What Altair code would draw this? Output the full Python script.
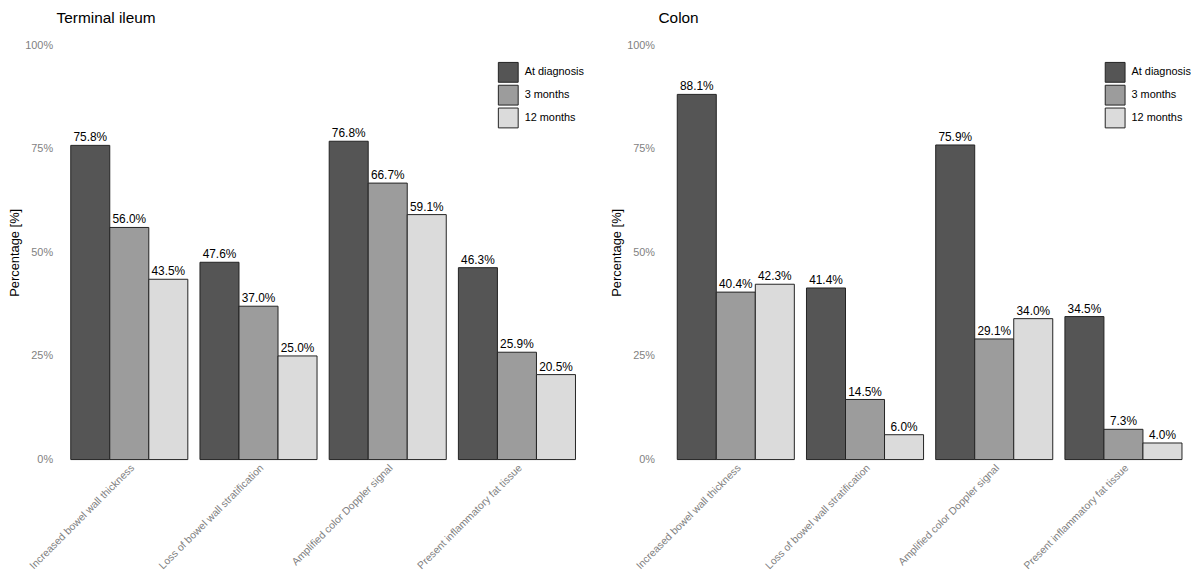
import altair as alt
import pandas as pd

features = [
    "Increased bowel wall thickness",
    "Loss of bowel wall stratification",
    "Amplified color Doppler signal",
    "Present inflammatory fat tissue",
]
times = ["At diagnosis", "3 months", "12 months"]
colors = ["#555555", "#9c9c9c", "#dbdbdb"]

ileum_diag = [75.8, 47.6, 76.8, 46.3]
ileum_3m = [56.0, 37.0, 66.7, 25.9]
ileum_12m = [43.5, 25.0, 59.1, 20.5]

colon_diag = [88.1, 41.4, 75.9, 34.5]
colon_3m = [40.4, 14.5, 29.1, 7.3]
colon_12m = [42.3, 6.0, 34.0, 4.0]

FONT = "Liberation Sans"


def make_df(diag, m3, m12):
    rows = []
    for series, name in zip([diag, m3, m12], times):
        for f, v in zip(features, series):
            rows.append({"feature": f, "time": name, "value": v, "label": f"{v:.1f}%"})
    return pd.DataFrame(rows)


def panel(title, df, width, pad_outer, align, legend_x):
    base = alt.Chart(df).encode(
        x=alt.X(
            "feature:N",
            sort=features,
            title=None,
            scale=alt.Scale(paddingInner=0.094, paddingOuter=pad_outer, align=align),
            axis=alt.Axis(
                labelAngle=-45,
                labelAlign="right",
                labelBaseline="top",
                labelColor="#7f7f7f",
                labelFontSize=10.5,
                labelFont=FONT,
                labelPadding=3,
                domain=False,
                ticks=False,
                grid=False,
                labelLimit=300,
            ),
        ),
        xOffset=alt.XOffset("time:N", sort=times, scale=alt.Scale(paddingInner=0, paddingOuter=0)),
    )
    bars = base.mark_bar(stroke="#222222", strokeWidth=1).encode(
        y=alt.Y(
            "value:Q",
            scale=alt.Scale(domain=[0, 100], nice=False, zero=True),
            title="Percentage [%]",
            axis=alt.Axis(
                values=[0, 25, 50, 75, 100],
                labelExpr="datum.value + '%'",
                labelColor="#7f7f7f",
                labelFontSize=11,
                labelFont=FONT,
                labelPadding=4,
                titleFont=FONT,
                titleFontSize=13,
                titleFontWeight="normal",
                titleColor="#000000",
                titlePadding=3,
                domain=False,
                ticks=False,
                grid=False,
            ),
        ),
        color=alt.Color(
            "time:N",
            sort=times,
            scale=alt.Scale(domain=times, range=colors),
            legend=alt.Legend(
                title=None,
                orient="none",
                legendX=legend_x,
                legendY=17,
                symbolType="square",
                symbolSize=400,
                symbolStrokeColor="#222222",
                symbolStrokeWidth=1,
                symbolOpacity=1,
                rowPadding=-8,
                labelFont=FONT,
                labelFontSize=11,
                labelColor="#000000",
                labelOffset=6,
            ),
        ),
    )
    text = base.mark_text(baseline="bottom", dy=-1, font=FONT, fontSize=12, color="#000000").encode(
        y=alt.Y("value:Q"),
        text="label:N",
    )
    return alt.layer(bars, text).properties(
        width=width,
        height=418,
        title=alt.TitleParams(
            title,
            anchor="start",
            frame="group",
            font=FONT,
            fontSize=15.5,
            fontWeight="normal",
            color="#000000",
            offset=13,
        ),
    )


left = panel("Terminal ileum", make_df(ileum_diag, ileum_3m, ileum_12m), 543, 0.1305, 0.42, 445)
right = panel("Colon", make_df(colon_diag, colon_3m, colon_12m), 530, 0.0807, 0.9, 450)

chart = (
    alt.hconcat(left, right, spacing=15)
    .resolve_scale(x="independent", y="independent", xOffset="independent")
    .resolve_legend(color="independent")
    .configure_view(stroke=None)
    .properties(background="white", padding=0)
)

chart.save("out.html", embed_options={"renderer": "svg", "actions": False})
